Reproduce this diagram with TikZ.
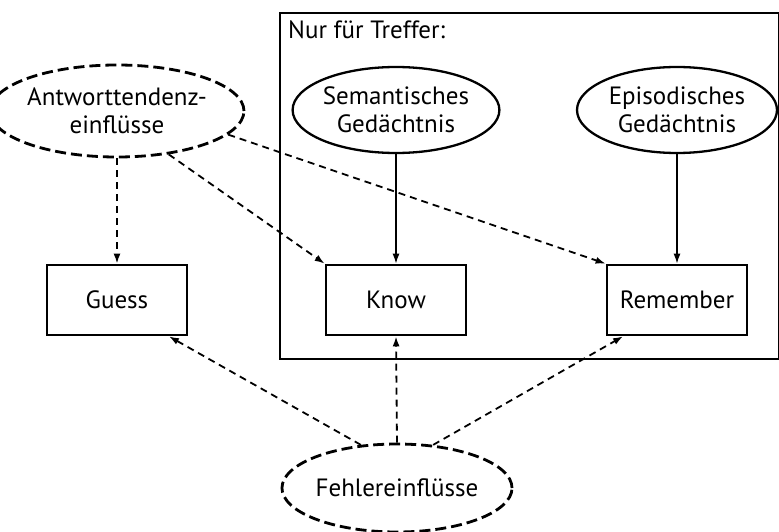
\documentclass[tikz,border=0pt]{standalone}
\usepackage{fontspec}
\setmainfont{PT Sans}
\usetikzlibrary{shapes.geometric,arrows.meta}
\begin{document}
\begin{tikzpicture}[x=1pt,y=-1pt,
  font=\fontsize{25}{28.5}\selectfont,
  solidell/.style={ellipse,draw,line width=2.3pt,inner sep=0pt,align=center,minimum width=200pt,minimum height=86pt},
  dashell/.style={ellipse,draw,line width=2.8pt,dash pattern=on 11pt off 5pt,inner sep=0pt,align=center},
  boxs/.style={rectangle,draw,line width=2.7pt,minimum width=140pt,minimum height=70pt,inner sep=0pt},
  solidarr/.style={-{Latex[length=10pt,width=7pt]},line width=1.4pt},
  dasharr/.style={-{Latex[length=10pt,width=7pt]},line width=1.8pt,dash pattern=on 7pt off 5pt}]
\useasboundingbox (0,0) rectangle (779,532);
\draw[line width=1.6pt] (280,13) rectangle (779,359);
\node[anchor=base west,inner sep=0pt] (nur) at (288,39) {Nur für Treffer:};
\node[solidell] (sem) at (396,110) {Semantisches\\Gedächtnis};
\node[solidell] (epi) at (677,110) {Episodisches\\Gedächtnis};
\node[dashell,minimum width=208pt,minimum height=92pt] (ant) at (117,111) {Antworttendenz-\\einflüsse};
\node[boxs] (guess) at (117,300) {Guess};
\node[boxs] (know) at (396,300) {Know};
\node[boxs] (rem) at (677,300) {Remember};
\node[dashell,minimum width=196pt,minimum height=88pt] (feh) at (397,488) {Fehlereinflüsse};
\draw[solidarr] (sem.south) -- (know.north);
\draw[solidarr] (epi.south) -- (rem.north);
\draw[dasharr] (ant.south) -- (guess.north);
\draw[dasharr] (ant.-40) -- (know.north west);
\draw[dasharr] (ant.-12) -- (rem.north west);
\draw[dasharr] (feh.130) -- (guess.-35);
\draw[dasharr] (feh.north) -- (know.south);
\draw[dasharr] (feh.50) -- (rem.-146);
\end{tikzpicture}
\end{document}
